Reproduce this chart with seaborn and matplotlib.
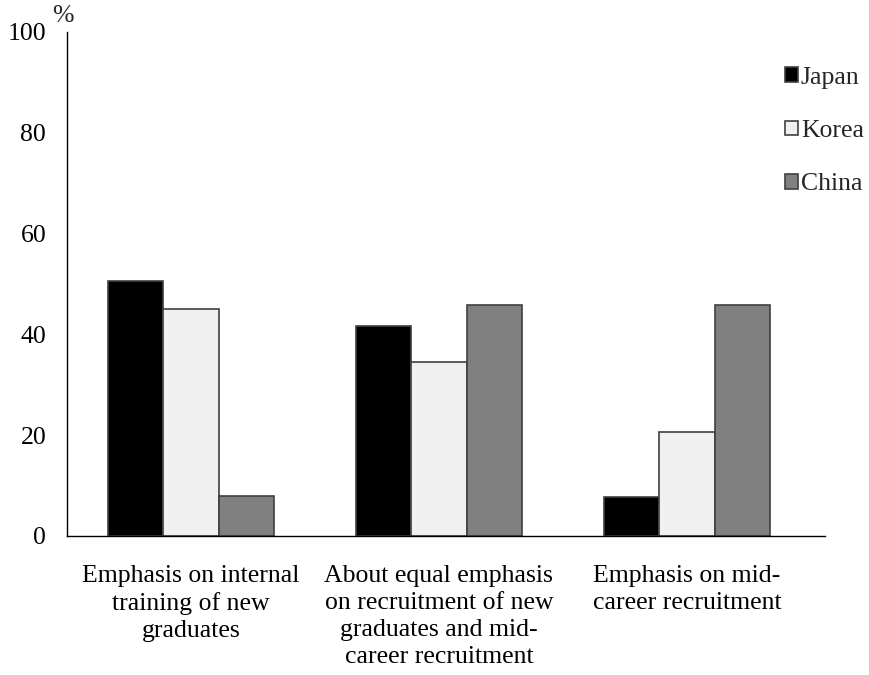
import numpy as np
import pandas as pd
import matplotlib
matplotlib.use("Agg")
import matplotlib.pyplot as plt
import seaborn as sns

sns.set_style("white")
plt.rcParams["font.family"] = ["Liberation Serif", "DejaVu Serif"]

categories = [
    "Emphasis on internal\ntraining of new\ngraduates",
    "About equal emphasis\non recruitment of new\ngraduates and mid-\ncareer recruitment",
    "Emphasis on mid-\ncareer recruitment",
]
countries = ["Japan", "Korea", "China"]
japan = [50.5, 41.6, 7.8]
korea = [45.0, 34.4, 20.6]
china = [8.0, 45.9, 45.9]

df = pd.DataFrame({
    "category": categories * 3,
    "country": ["Japan"] * 3 + ["Korea"] * 3 + ["China"] * 3,
    "value": japan + korea + china,
})

palette = {"Japan": "#000000", "Korea": "#f0f0f0", "China": "#808080"}
fs = 18.5

fig = plt.figure(figsize=(8.7, 6.75), dpi=100)
ax = fig.add_axes([0.077, 0.206, 0.871, 0.747])

sns.barplot(data=df, x="category", y="value", hue="country", order=categories,
            hue_order=countries, palette=palette, width=0.67, saturation=1,
            edgecolor="#404040", linewidth=1.2, ax=ax)

ax.set_ylim(0, 100)
ax.set_xlim(-0.5, 2.556)
ax.set_yticks(np.arange(0, 101, 20))
ax.set_xlabel("")
ax.set_ylabel("")
for s in ["top", "right"]:
    ax.spines[s].set_visible(False)
ax.spines["left"].set_color("black")
ax.spines["bottom"].set_color("black")
ax.spines["left"].set_linewidth(1)
ax.spines["bottom"].set_linewidth(1)
ax.tick_params(axis="both", length=0, labelsize=fs, colors="black")
ax.tick_params(axis="y", pad=15)
ax.tick_params(axis="x", pad=21)
for lab in ax.get_xticklabels():
    lab.set_linespacing(1.29)
ax.text(-0.005, 1.01, "%", transform=ax.transAxes, fontsize=fs, ha="center", va="bottom")

leg = ax.legend(loc="upper left", bbox_to_anchor=(0.934, 0.951), frameon=False,
                fontsize=fs, handlelength=0.5, handleheight=0.5, handletextpad=0.12,
                labelspacing=1.22, borderaxespad=0)

fig.savefig("out.png", dpi=100)
